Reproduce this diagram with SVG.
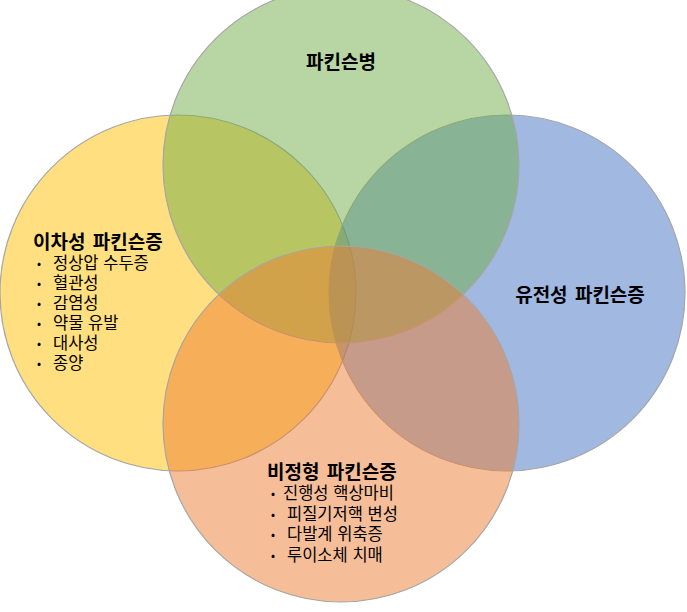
<svg xmlns="http://www.w3.org/2000/svg" width="687" height="612" viewBox="0 0 687 612">
<style>
.c{stroke:#A6A6A6;stroke-width:1.2;fill-opacity:0.5}
.t{font-family:"Noto Sans CJK KR","Noto Sans",sans-serif;fill:#000}
.h{font-size:19px;font-weight:bold;word-spacing:3px}
.i{font-size:16.5px;word-spacing:1px}
.b{font-size:12px}
</style>
<rect width="687" height="612" fill="#fff"/>
<g id="secondary">
<circle class="c" cx="178" cy="293" r="178" fill="#FFC000"/>
</g>
<g id="genetic">
<circle class="c" cx="507" cy="293" r="178" fill="#4472C4"/>
</g>
<g id="parkinson">
<circle class="c" cx="341" cy="165" r="178" fill="#70AD47"/>
</g>
<g id="atypical">
<circle class="c" cx="341" cy="424" r="178" fill="#ED7D31"/>
</g>
<g id="labels" class="t">
<g id="secondary-label">
<text class="t h" x="33" y="249">이차성 파킨슨증</text>
<g class="t b">
<text x="37" y="268">•</text><text x="37" y="288">•</text><text x="37" y="308">•</text><text x="37" y="328">•</text><text x="37" y="348">•</text><text x="37" y="368">•</text>
</g>
<g class="t i">
<text x="53" y="269">정상압 수두증</text>
<text x="53" y="289">혈관성</text>
<text x="53" y="309">감염성</text>
<text x="53" y="329">약물 유발</text>
<text x="53" y="349">대사성</text>
<text x="53" y="369">종양</text>
</g>
</g>
<g id="parkinson-label">
<text class="t h" x="341" y="69" text-anchor="middle">파킨슨병</text>
</g>
<g id="genetic-label">
<text class="t h" x="580" y="302" text-anchor="middle">유전성 파킨슨증</text>
</g>
<g id="atypical-label">
<text class="t h" x="267" y="479">비정형 파킨슨증</text>
<g class="t b">
<text x="271" y="498">•</text><text x="271" y="519">•</text><text x="271" y="539">•</text><text x="271" y="560">•</text>
</g>
<g class="t i">
<text x="283" y="499">진행성 핵상마비</text>
<text x="287" y="520">피질기저핵 변성</text>
<text x="287" y="540">다발계 위축증</text>
<text x="287" y="561">루이소체 치매</text>
</g>
</g>
</g>
</svg>
